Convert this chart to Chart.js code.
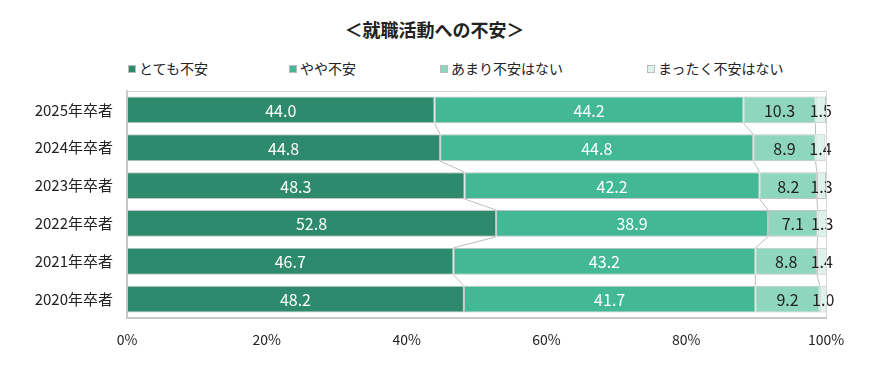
<!DOCTYPE html>
<html>
<head>
<meta charset="utf-8">
<script src="https://cdn.jsdelivr.net/npm/chart.js@4"></script>
<style>
  body { margin: 0; background: #fff; }
  #wrap { position: relative; width: 869px; height: 365px; font-family: "Noto Sans CJK JP", sans-serif; }
  #title { position: absolute; top: 16px; left: 0; width: 869px; text-align: center; font-size: 18px; font-weight: bold; color: #222; }
  .lg { position: absolute; top: 58px; font-size: 14px; color: #222; white-space: nowrap; }
  .lg span { display: inline-block; width: 8px; height: 8px; margin-right: 3px; vertical-align: 1px; }
  canvas { position: absolute; left: 0; top: 0; }
</style>
</head>
<body>
<div id="wrap">
  <div id="title">＜就職活動への不安＞</div>
  <div id="legend"></div>
  <canvas id="chart" width="869" height="365"></canvas>
</div>
<script>
const years = ['2025年卒者', '2024年卒者', '2023年卒者', '2022年卒者', '2021年卒者', '2020年卒者'];
const seriesNames = ['とても不安', 'やや不安', 'あまり不安はない', 'まったく不安はない'];
const veryAnxious = [44.0, 44.8, 48.3, 52.8, 46.7, 48.2];
const somewhatAnxious = [44.2, 44.8, 42.2, 38.9, 43.2, 41.7];
const notVery = [10.3, 8.9, 8.2, 7.1, 8.8, 9.2];
const notAtAll = [1.5, 1.4, 1.3, 1.3, 1.4, 1.0];
const xTicks = [0, 20, 40, 60, 80, 100];

const colors = ['#2E8A6C', '#42B994', '#8FD6BE', '#DDF2EA'];
const labelColors = ['#ffffff', '#ffffff', '#222222', '#222222'];
const legendX = [128, 289, 440, 647];
const numFont = '"Liberation Sans Narrow", "Noto Sans CJK JP", sans-serif';

const legend = document.getElementById('legend');
seriesNames.forEach((n, i) => {
  const d = document.createElement('div');
  d.className = 'lg';
  d.style.left = legendX[i] + 'px';
  d.innerHTML = '<span style="background:' + colors[i] + ';border:1px solid #bbb;box-sizing:border-box"></span>' + n;
  legend.appendChild(d);
});

// series lines between bars + value labels
const extras = {
  id: 'extras',
  beforeDatasetsDraw(chart) {
    const ctx = chart.ctx;
    ctx.save();
    ctx.strokeStyle = '#bdbdbd';
    ctx.lineWidth = 1;
    chart.data.datasets.forEach((ds, di) => {
      if (di === chart.data.datasets.length - 1) return;
      const meta = chart.getDatasetMeta(di);
      for (let i = 0; i < meta.data.length - 1; i++) {
        const a = meta.data[i].getProps(['x', 'y', 'height'], true);
        const b = meta.data[i + 1].getProps(['x', 'y', 'height'], true);
        ctx.beginPath();
        ctx.moveTo(a.x, a.y + a.height / 2);
        ctx.lineTo(b.x, b.y - b.height / 2);
        ctx.stroke();
      }
    });
    ctx.restore();
  },
  afterDatasetsDraw(chart) {
    const ctx = chart.ctx;
    ctx.save();
    ctx.font = '16px ' + numFont;
    ctx.textAlign = 'center';
    ctx.textBaseline = 'middle';
    chart.data.datasets.forEach((ds, di) => {
      const meta = chart.getDatasetMeta(di);
      meta.data.forEach((bar, i) => {
        const p = bar.getProps(['x', 'y', 'base'], true);
        ctx.fillStyle = labelColors[di];
        ctx.fillText(ds.data[i].toFixed(1), (p.x + p.base) / 2, p.y + 1);
      });
    });
    ctx.restore();
  }
};

new Chart(document.getElementById('chart'), {
  type: 'bar',
  data: {
    labels: years,
    datasets: [veryAnxious, somewhatAnxious, notVery, notAtAll].map((d, i) => ({
      label: seriesNames[i],
      data: d,
      backgroundColor: colors[i],
      borderColor: '#c4c4c4',
      borderWidth: 1,
      borderSkipped: false,
      barPercentage: 0.71,
      categoryPercentage: 1
    }))
  },
  options: {
    indexAxis: 'y',
    responsive: false,
    animation: false,
    layout: { padding: { top: 91, right: 43, left: 0, bottom: 0 } },
    plugins: { legend: { display: false }, tooltip: { enabled: false } },
    scales: {
      x: {
        stacked: true,
        min: 0,
        max: 100,
        afterBuildTicks: s => { s.ticks = xTicks.map(v => ({ value: v })); },
        afterFit: s => { s.height = 47; },
        grid: { display: false, drawTicks: false },
        border: { color: '#c8c8c8', width: 2 },
        ticks: {
          padding: 13,
          color: '#222',
          font: { size: 14, family: numFont },
          callback: v => v + '%'
        }
      },
      y: {
        stacked: true,
        afterFit: s => { s.width = 127; },
        grid: { display: false, drawTicks: false },
        border: { color: '#c8c8c8', width: 2 },
        ticks: {
          padding: 14,
          color: '#222',
          font: { size: 15, family: '"Noto Sans CJK JP", sans-serif' }
        }
      }
    }
  },
  plugins: [extras, {
    id: 'frame',
    afterDraw(chart) {
      const a = chart.chartArea, ctx = chart.ctx;
      ctx.save();
      ctx.strokeStyle = '#d6d6d6';
      ctx.lineWidth = 1;
      ctx.beginPath();
      ctx.moveTo(a.left, a.top + 0.5);
      ctx.lineTo(a.right + 0.5, a.top + 0.5);
      ctx.lineTo(a.right + 0.5, a.bottom);
      ctx.stroke();
      ctx.restore();
    }
  }]
});
</script>
</body>
</html>
